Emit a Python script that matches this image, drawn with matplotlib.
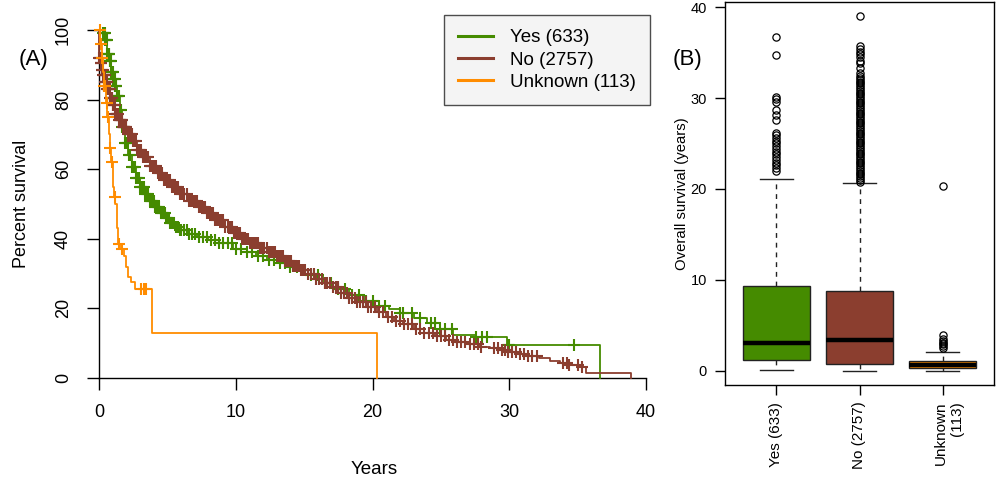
import numpy as np
import matplotlib
matplotlib.use("Agg")
import matplotlib.pyplot as plt
from matplotlib.transforms import ScaledTranslation
from matplotlib.lines import Line2D

plt.rcParams['font.family'] = ['Liberation Sans', 'DejaVu Sans']

# ---------------- data ----------------
groups = ["Yes (633)", "No (2757)", "Unknown (113)"]
box_labels = ["Yes (633)", "No (2757)", "Unknown\n(113)"]
colors = ["#458B00", "#8B3E2F", "#FF8C00"]

yes_t = [0, 0.3, 0.45, 0.6, 0.75, 0.9, 1.05, 1.17, 1.3, 1.5, 1.7, 1.9, 2.15, 2.4, 2.7, 3.0, 3.35, 3.7,
         4.1, 4.5, 4.85, 5.2, 5.55, 5.9, 6.5, 7.2, 8.0, 8.8, 9.8, 10.8, 11.5, 12.3, 13.1, 13.9, 14.7,
         15.5, 16.4, 17.3, 18.3, 19.4, 20.5, 21.2, 22.0, 23.0, 24.0, 24.9, 25.9, 27.6, 29.8, 36.6]
yes_s = [100, 99, 97, 93, 91, 88, 86, 84, 81, 77, 72, 67.5, 64, 60.5, 57.5, 55, 53, 51,
         49, 47.4, 46, 44.5, 43.5, 42.5, 41.5, 40.5, 39.6, 38.8, 37.2, 36.2, 35.2, 34, 33, 32, 31,
         29.5, 27.3, 25.5, 23.8, 22.2, 20.7, 19.8, 18.8, 17.3, 15.8, 14, 12.4, 11.8, 9.5, 0]

no_t = [0, 0.02, 0.1, 0.2, 0.3, 0.45, 0.6, 0.8, 1.0, 1.2, 1.45, 1.75, 2.1, 2.45, 2.8, 3.2, 3.7, 4.2,
        4.7, 5.3, 5.9, 6.5, 7.2, 7.9, 8.5, 9.2, 9.8, 10.4, 11.0, 11.7, 12.3, 12.9, 13.5, 14.1, 14.7,
        15.3, 15.9, 16.5, 17.1, 17.7, 18.3, 18.9, 19.6, 20.3, 21.0, 21.6, 22.2, 23.0, 23.8, 24.6,
        25.4, 26.2, 27.0, 27.8, 28.6, 29.3, 29.8, 30.6, 31.4, 32.2, 33.0, 33.7, 34.4, 35.2, 35.6, 38.9]
no_s = [100, 92, 90.5, 88.5, 87, 85, 83, 80.5, 78.5, 76, 74, 72, 70, 68, 65.5, 63.5, 61, 59,
        57, 55, 53, 51, 49, 47.4, 45.5, 43.5, 41.7, 40, 38.7, 37.5, 36.3, 35, 33.7, 32.3, 31,
        29.8, 28.5, 27.3, 26.1, 24.5, 23, 21.7, 20.4, 19, 17.5, 16.5, 15.5, 14, 13, 12,
        11, 10.3, 9.8, 9, 8.5, 8, 7.5, 6.8, 6.2, 5.7, 5, 4.3, 3.8, 3.2, 1.4, 0]

unk_t = [0, 0.1, 0.2, 0.3, 0.4, 0.5, 0.6, 0.7, 0.8, 0.9, 1.0, 1.1, 1.2, 1.3, 1.4, 1.6, 1.8, 1.95,
         2.1, 2.35, 2.6, 3.9, 20.3]
unk_s = [100, 96, 92, 88, 84, 79, 75, 70, 66, 62, 55, 52, 50, 43, 38.5, 37, 35, 32,
         29, 27.5, 25.6, 12.8, 0]

yes_cens = [0.3, 0.34, 0.38, 0.42, 0.46, 0.5, 0.54, 0.58, 0.62, 0.66, 0.7, 0.74, 0.78, 0.82, 0.86,
            0.9, 0.94, 0.98, 1.02, 1.06, 1.1, 1.14, 1.18, 1.22, 1.26, 1.3, 1.35, 1.4, 1.45, 1.5,
            1.6, 1.7, 1.8, 1.9, 2.0, 2.1, 2.2, 2.3, 2.4, 2.5, 2.6, 2.7, 2.8, 2.9, 3.0, 3.1, 3.2,
            3.3, 3.4, 3.5, 3.6, 3.7, 3.8, 3.9, 4.0, 4.1, 4.2, 4.3, 4.4, 4.5, 4.6, 4.7, 4.8, 4.9,
            5.0, 5.1, 5.2, 5.3, 5.4, 5.5, 5.6, 5.7, 5.8, 5.9, 6.0, 6.2, 6.4, 6.6, 6.8, 7.0, 7.3,
            7.6, 7.9, 8.2, 8.5, 8.8, 9.1, 9.4, 9.7, 10.0, 10.4, 10.8, 11.2, 11.6, 12.0, 12.4,
            12.8, 13.2, 13.6, 14.0, 14.5, 15.0, 15.5, 16.0, 16.5, 17.0, 17.5, 18.0, 18.5, 19.0,
            19.5, 20.0, 20.5, 20.9, 22.0, 22.2, 22.9, 23.5, 24.3, 24.6, 24.9, 25.3, 25.8, 27.6,
            28.0, 28.4, 29.9, 30.0, 34.7]
no_cens = [0.03, 0.06, 0.09, 0.12, 0.15, 0.18, 0.21, 0.24, 0.27, 0.3, 0.33, 0.36, 0.39, 0.42,
           0.45, 0.48, 0.51, 0.54, 0.57, 0.6, 0.63, 0.66, 0.69, 0.72, 0.75, 0.78, 0.81, 0.84,
           0.87, 0.9, 0.93, 0.96, 1.0, 1.05, 1.1, 1.15, 1.2, 1.25, 1.3, 1.35, 1.4, 1.45, 1.5,
           1.55, 1.6, 1.65, 1.7, 1.75, 1.8, 1.85, 1.9, 1.95, 2.0, 2.1, 2.2, 2.3, 2.4, 2.5, 2.6,
           2.7, 2.8, 2.9, 3.0, 3.1, 3.2, 3.3, 3.4, 3.5, 3.6, 3.7, 3.8, 3.9, 4.0, 4.15, 4.3, 4.45,
           4.6, 4.75, 4.9, 5.05, 5.2, 5.35, 5.5, 5.65, 5.8, 5.95, 6.1, 6.25, 6.4, 6.55, 6.7, 6.85,
           7.0, 7.15, 7.3, 7.45, 7.6, 7.75, 7.9, 8.05, 8.2, 8.35, 8.5, 8.65, 8.8, 8.95, 9.1, 9.25,
           9.4, 9.55, 9.7, 9.85, 10.0, 10.15, 10.3, 10.45, 10.6, 10.75, 10.9, 11.05, 11.2, 11.35,
           11.5, 11.65, 11.8, 11.95, 12.1, 12.25, 12.4, 12.55, 12.7, 12.85, 13.0, 13.15, 13.3,
           13.45, 13.6, 13.75, 13.9, 14.05, 14.2, 14.35, 14.5, 14.65, 14.8, 14.95, 15.1, 15.3,
           15.5, 15.7, 15.9, 16.1, 16.3, 16.5, 16.7, 16.9, 17.1, 17.3, 17.5, 17.7, 17.9, 18.1,
           18.3, 18.5, 18.7, 18.9, 19.1, 19.3, 19.5, 19.7, 19.9, 20.2, 20.5, 20.8, 21.1, 21.4,
           21.7, 22.0, 22.3, 22.6, 22.9, 23.2, 23.5, 23.8, 24.1, 24.4, 24.7, 25.0, 25.3, 25.6,
           25.9, 26.2, 26.5, 26.8, 27.1, 27.4, 27.7, 27.9, 28.9, 29.2, 29.5, 29.7, 29.9, 30.2,
           30.5, 30.8, 31.1, 31.4, 31.7, 32.0, 33.9, 34.2, 34.4, 35.0, 35.3]
unk_cens = [0.05, 0.15, 0.25, 0.4, 0.45, 0.55, 0.65, 0.8, 0.95, 1.15, 1.45, 1.65, 3.1, 3.3, 3.45]

# boxplot summary (years)
box_q1 = [1.2, 0.77, 0.3]
box_med = [3.04, 3.4, 0.6]
box_q3 = [9.37, 8.79, 1.05]
box_lo = [0.1, 0.0, 0.03]
box_hi = [21.1, 20.7, 2.1]
yes_out = [22.0, 22.3, 22.6, 22.9, 23.2, 23.5, 23.8, 24.1, 24.4, 24.7, 25.0, 25.3, 25.6, 25.9,
           26.1, 27.6, 28.1, 28.7, 29.6, 29.9, 30.1, 34.7, 36.7]
no_out = [20.8, 21.0, 21.2, 21.4, 21.6, 21.8, 22.0, 22.2, 22.4, 22.6, 22.8, 23.0, 23.2, 23.4,
          23.6, 23.8, 24.0, 24.2, 24.4, 24.6, 24.8, 25.0, 25.2, 25.4, 25.6, 25.8, 26.0, 26.2,
          26.4, 26.6, 26.8, 27.0, 27.2, 27.4, 27.6, 27.8, 28.0, 28.2, 28.4, 28.6, 28.8, 29.0,
          29.2, 29.4, 29.6, 29.8, 30.0, 30.2, 30.4, 30.6, 30.8, 31.0, 31.2, 31.4, 31.6, 31.8,
          32.0, 32.2, 32.4, 32.7, 33.3, 33.8, 34.1, 34.5, 34.8, 35.1, 35.4, 35.7, 39.0]
unk_out = [2.5, 2.7, 2.9, 3.1, 3.3, 3.5, 3.9, 20.3]

x_ticks = [0, 10, 20, 30, 40]
y_ticks = [0, 20, 40, 60, 80, 100]
box_yticks = [0, 10, 20, 30, 40]

# ---------------- figure ----------------
W, H = 1000, 483
fig = plt.figure(figsize=(W / 100, H / 100), dpi=100)

def fx(px):
    return px / W

def fy(py):
    return 1 - py / H

# ---- Panel A ----
axA = fig.add_axes([fx(99), fy(378), fx(646) - fx(99), fy(30) - fy(378)])
curves = [(yes_t, yes_s, yes_cens), (no_t, no_s, no_cens), (unk_t, unk_s, unk_cens)]
for (t, s, cens), col in zip(curves, colors):
    t = np.asarray(t, float)
    s = np.asarray(s, float)
    axA.step(t, s, where='post', color=col, lw=1.3, clip_on=False, zorder=3)
    c = np.asarray(cens, float)
    idx = np.searchsorted(t, c, side='right') - 1
    axA.plot(c, s[idx], linestyle='none', marker='+', ms=8.5, mew=1.5, color=col,
             clip_on=False, zorder=3)

axA.set_xlim(0, 40)
axA.set_ylim(0, 100)
for sp in ['top', 'right']:
    axA.spines[sp].set_visible(False)
for sp in ['left', 'bottom']:
    axA.spines[sp].set_linewidth(1.0)
axA.set_xticks(x_ticks)
axA.set_yticks(y_ticks)
axA.tick_params(axis='both', length=8.5, width=1.0, labelsize=13)
axA.tick_params(axis='x', pad=10)
axA.tick_params(axis='y', pad=11)
for lab in axA.get_yticklabels():
    lab.set_rotation(90)
    lab.set_va('center')
axA.set_xlabel("Years", fontsize=13.5)
axA.set_ylabel("Percent survival", fontsize=13)
axA.yaxis.set_label_coords(-(99 - 22) / (646 - 99), 0.5)
axA.xaxis.set_label_coords((374 - 99) / (646 - 99), -(470 - 378) / (378 - 30))
axA.xaxis.label.set_va('center')
axA.yaxis.label.set_va('center')

fig.text(fx(33), fy(59), "(A)", fontsize=16, ha='center', va='center')

# legend
handles = [Line2D([0], [0], color=c, lw=2.2) for c in colors]
leg = fig.legend(handles, groups, loc='upper left', bbox_to_anchor=(fx(444), fy(15)),
                 fontsize=13.5, frameon=True, fancybox=False, borderaxespad=0,
                 handlelength=1.85, handletextpad=0.9, labelspacing=0.28,
                 borderpad=0.75)
leg.get_frame().set_facecolor('#F2F2F2')
leg.get_frame().set_edgecolor('#222222')
leg.get_frame().set_linewidth(1.0)

# ---- Panel B ----
axB = fig.add_axes([fx(725), fy(385), fx(994) - fx(725), fy(2) - fy(385)])
stats = []
outs = [yes_out, no_out, unk_out]
for i in range(3):
    stats.append(dict(med=box_med[i], q1=box_q1[i], q3=box_q3[i],
                      whislo=box_lo[i], whishi=box_hi[i], fliers=outs[i]))
bp = axB.bxp(stats, positions=[1, 2, 3], widths=0.8, patch_artist=True,
             capwidths=[0.4] * 3,
             boxprops=dict(edgecolor='#222222', linewidth=1.0),
             medianprops=dict(color='black', linewidth=3.2, solid_capstyle='butt'),
             whiskerprops=dict(color='#222222', linewidth=1.0, linestyle=(0, (3.5, 3.5))),
             capprops=dict(color='#222222', linewidth=1.0),
             flierprops=dict(marker='o', markersize=5.2, markerfacecolor='none',
                             markeredgecolor='black', markeredgewidth=0.9))
for patch, col in zip(bp['boxes'], colors):
    patch.set_facecolor(col)

axB.set_xlim(0.38, 3.62)
axB.set_ylim(-1.56, 40.56)
axB.set_yticks(box_yticks)
axB.set_xticks([1, 2, 3])
axB.set_xticklabels(box_labels, rotation=90, va='top', ha='center', multialignment='right')
axB.tick_params(axis='both', length=7, width=1.0, labelsize=10.5)
axB.tick_params(axis='x', pad=5, labelsize=11)
axB.tick_params(axis='y', pad=6)
for sp in axB.spines.values():
    sp.set_linewidth(1.0)
lab3 = axB.get_xticklabels()[2]
lab3.set_transform(lab3.get_transform() + ScaledTranslation(6 / 100, 0, fig.dpi_scale_trans))
axB.set_ylabel("Overall survival (years)", fontsize=10.7)
axB.yaxis.set_label_coords(-(725 - 682) / (994 - 725), 0.5)
axB.yaxis.label.set_va('center')

fig.text(fx(687), fy(59), "(B)", fontsize=16, ha='center', va='center')

fig.savefig("out.png", dpi=100)
